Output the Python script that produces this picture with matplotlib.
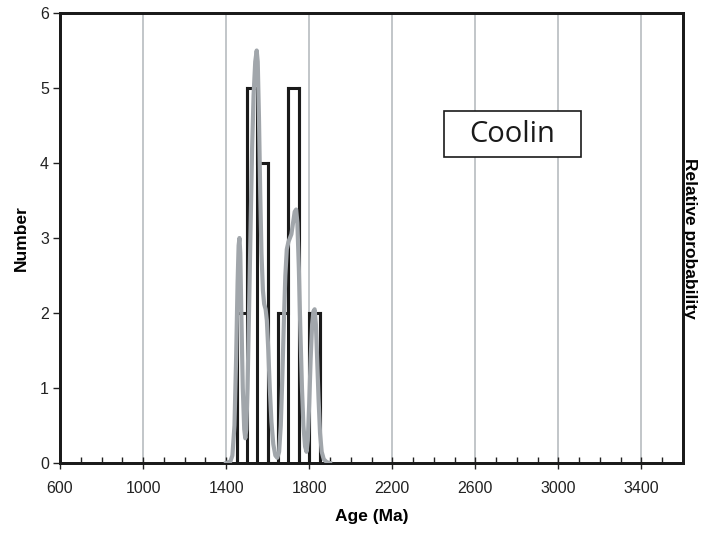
import matplotlib.pyplot as plt
from matplotlib.patches import Rectangle
import numpy as np

plt.rcParams['font.family'] = ['Liberation Sans', 'DejaVu Sans']

# --- DATA ---
# histogram: 50 Ma bins
bin_edges = [1450, 1500, 1550, 1600, 1650, 1700, 1750, 1800, 1850]
bin_counts = [2, 5, 4, 0, 2, 5, 0, 2]

# relative probability curve (in count units)
prob_age = [1400, 1420, 1430, 1440, 1448, 1455, 1460, 1464, 1468, 1473,
            1480, 1487, 1492, 1497, 1503, 1510, 1518, 1525, 1532, 1540,
            1547, 1552, 1558, 1564, 1570, 1577, 1583, 1590, 1596, 1603,
            1610, 1618, 1627, 1637, 1646, 1655, 1663, 1670, 1678, 1685,
            1692, 1700, 1707, 1714, 1722, 1730, 1737, 1743, 1750, 1757,
            1765, 1772, 1780, 1787, 1793, 1800, 1807, 1814, 1820, 1826,
            1832, 1838, 1845, 1852, 1860, 1870, 1885, 1900]
prob_val = [0.0, 0.02, 0.1, 0.5, 1.4, 2.4, 2.9, 3.0, 2.8, 2.0,
            1.0, 0.45, 0.33, 0.45, 1.0, 2.0, 3.2, 4.2, 4.9, 5.35,
            5.5, 5.35, 4.6, 3.6, 2.8, 2.3, 2.12, 2.05, 1.9, 1.5,
            1.0, 0.55, 0.25, 0.1, 0.07, 0.15, 0.5, 1.1, 1.9, 2.5,
            2.85, 2.95, 3.0, 3.05, 3.2, 3.35, 3.38, 3.2, 2.6, 1.8,
            1.0, 0.5, 0.22, 0.15, 0.3, 0.8, 1.4, 1.85, 2.02, 2.05,
            1.85, 1.4, 0.85, 0.4, 0.15, 0.05, 0.01, 0.0]

x_ticks = [600, 1000, 1400, 1800, 2200, 2600, 3000, 3400]
y_ticks = [0, 1, 2, 3, 4, 5, 6]
sample_name = 'Coolin'

# --- PLOT ---
fig = plt.figure(figsize=(7.07, 5.33), dpi=100)
ax = fig.add_axes([0.0849, 0.1313, 0.8812, 0.8443])

ax.set_xlim(600, 3600)
ax.set_ylim(0, 6)

# vertical grid
for xt in x_ticks[1:]:
    ax.axvline(xt, color='#b8bcc0', lw=1.2, zorder=0)

# histogram outline
ax.stairs(bin_counts, bin_edges, fill=False, color='#1a1a1a', lw=2.2, zorder=2)
for e, c1, c2 in zip(bin_edges, [0] + bin_counts, bin_counts + [0]):
    ax.plot([e, e], [0, max(c1, c2)], color='#1a1a1a', lw=2.2, zorder=2)

# probability curve on twin axis
ax2 = ax.twinx()
ax2.set_ylim(0, 6)
ax2.plot(prob_age, prob_val, color='#a1a6ab', lw=3, zorder=3, solid_joinstyle='round')
ax2.set_yticks([])
ax2.set_ylabel('Relative probability', rotation=-90, fontsize=12.5, fontweight='bold', labelpad=10)

ax.set_xticks(x_ticks)
ax.set_xticks(np.arange(700, 3600, 100), minor=True)
ax.set_yticks(y_ticks)
ax.tick_params(axis='x', which='major', direction='inout', length=8, width=1, labelsize=11.5,
               colors='#222222', pad=9)
ax.tick_params(axis='x', which='minor', direction='in', length=4, width=1, colors='#222222')
ax.tick_params(axis='y', which='major', direction='out', length=5, width=1, labelsize=11.5,
               colors='#222222', pad=3)
ax.set_xlabel('Age (Ma)', fontsize=12.5, fontweight='bold', labelpad=9)
ax.set_ylabel('Number', fontsize=12.5, fontweight='bold', labelpad=8)

for a in (ax, ax2):
    for s in a.spines.values():
        s.set_linewidth(2)
        s.set_color('#1a1a1a')

# sample name box
ax.add_patch(Rectangle((0.616, 0.68), 0.22, 0.102, transform=ax.transAxes,
                       facecolor='white', edgecolor='#1a1a1a', lw=1.2, zorder=5))
ax.text(0.726, 0.731, sample_name, transform=ax.transAxes, ha='center', va='center',
        fontsize=21, family=['Open Sans', 'DejaVu Sans'], color='#1a1a1a', zorder=6)

fig.savefig('out.png', dpi=100)
